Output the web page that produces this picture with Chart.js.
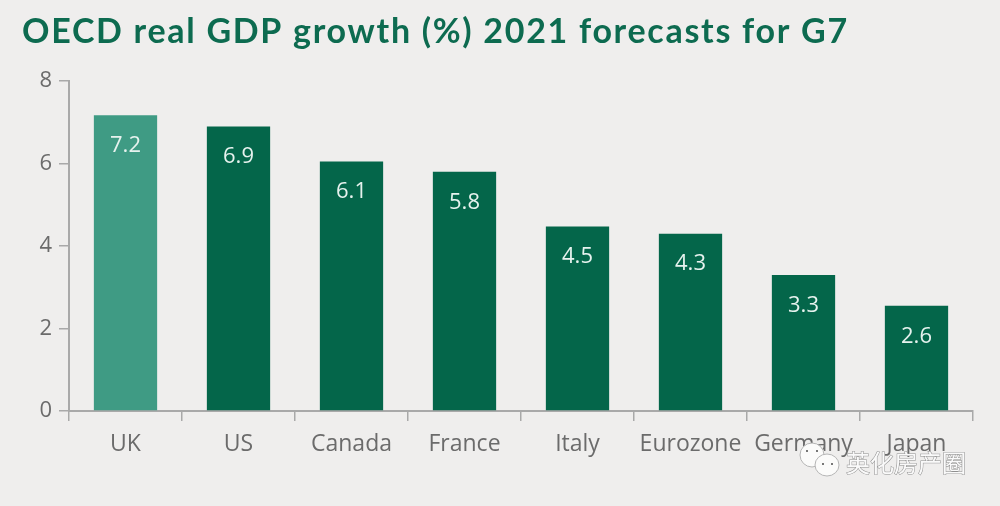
<!DOCTYPE html>
<html>
<head>
<meta charset="utf-8">
<script src="https://cdn.jsdelivr.net/npm/chart.js@4"></script>
<style>
html, body { margin: 0; padding: 0; background: #efeeed; }
#wrap { width: 1000px; height: 506px; }
</style>
</head>
<body>
<div id="wrap"><canvas id="chart"></canvas></div>
<script>
const titulo = 'OECD real GDP growth (%) 2021 forecasts for G7';
const categorias = ['UK', 'US', 'Canada', 'France', 'Italy', 'Eurozone', 'Germany', 'Japan'];
const valores = [7.17, 6.9, 6.05, 5.8, 4.47, 4.3, 3.3, 2.55];
const rotulos = ['7.2', '6.9', '6.1', '5.8', '4.5', '4.3', '3.3', '2.6'];
const cores = ['#3f9b84', '#04664a', '#04664a', '#04664a', '#04664a', '#04664a', '#04664a', '#04664a'];
const marca = '英化房产圈';

// title by hand because the title plugin has no letter spacing
const tituloPlugin = {
    id: 'tituloManual',
    afterDraw(chart) {
        const ctx = chart.ctx;
        ctx.save();
        ctx.fillStyle = '#0d6b50';
        ctx.font = 'bold 34px Lato';
        ctx.letterSpacing = '1.7px';
        ctx.textAlign = 'left';
        ctx.textBaseline = 'middle';
        ctx.fillText(titulo, 22, 32);
        ctx.restore();
    }
};

// white value labels inside the bars
const rotulosPlugin = {
    id: 'rotulos',
    afterDatasetsDraw(chart) {
        const ctx = chart.ctx;
        const barras = chart.getDatasetMeta(0).data;
        ctx.save();
        ctx.fillStyle = '#e6f2ee';
        ctx.font = '22px "Open Sans"';
        ctx.textAlign = 'center';
        ctx.textBaseline = 'middle';
        barras.forEach((b, i) => ctx.fillText(rotulos[i], b.x, b.y + 30.5));
        ctx.restore();
    }
};

// wechat style watermark over the bottom right corner
const marcaPlugin = {
    id: 'marca',
    afterDraw(chart) {
        const ctx = chart.ctx;
        ctx.save();
        ctx.fillStyle = '#fbfbfa';
        ctx.strokeStyle = '#b5b5b5';
        ctx.lineWidth = 1;
        ctx.beginPath();
        ctx.ellipse(812, 455, 12, 12, 0, 0, Math.PI * 2);
        ctx.fill();
        ctx.stroke();
        ctx.beginPath();
        ctx.ellipse(827, 465, 12, 11, 0, 0, Math.PI * 2);
        ctx.fill();
        ctx.stroke();
        ctx.fillStyle = '#777777';
        ctx.fillRect(806, 450, 2, 2);
        ctx.fillRect(816, 450, 2, 2);
        ctx.fillRect(822, 463, 2, 2);
        ctx.fillRect(831, 463, 2, 2);
        ctx.font = '24px "Noto Sans CJK SC"';
        ctx.fillStyle = '#fafafa';
        ctx.textAlign = 'left';
        ctx.textBaseline = 'middle';
        ctx.strokeStyle = '#8f8f8f';
        ctx.lineWidth = 1;
        ctx.strokeText(marca, 846, 463);
        ctx.fillText(marca, 846, 463);
        ctx.restore();
    }
};

new Chart(document.getElementById('chart'), {
    type: 'bar',
    data: {
        labels: categorias,
        datasets: [{
            data: valores,
            backgroundColor: cores,
            barPercentage: 0.56,
            categoryPercentage: 1
        }]
    },
    options: {
        responsive: true,
        maintainAspectRatio: false,
        animation: false,
        layout: { padding: { top: 81, right: 27, bottom: 0, left: 0 } },
        plugins: {
            legend: { display: false },
            tooltip: { enabled: false }
        },
        scales: {
            x: {
                afterFit(scale) { scale.height = 95; },
                grid: { drawOnChartArea: false, color: '#a9a9a9', tickLength: 10, lineWidth: 1.5 },
                border: { color: '#a9a9a9', width: 2 },
                ticks: {
                    color: '#6b6b6b',
                    font: { family: 'Open Sans', size: 23 },
                    padding: 10,
                    maxRotation: 0,
                    autoSkip: false
                }
            },
            y: {
                min: 0,
                max: 8,
                afterFit(scale) { scale.width = 69; },
                grid: { drawOnChartArea: false, color: '#a9a9a9', tickLength: 10, lineWidth: 1.5 },
                border: { color: '#a9a9a9', width: 2 },
                ticks: {
                    stepSize: 2,
                    color: '#6b6b6b',
                    font: { family: 'Open Sans', size: 22 },
                    padding: 7
                }
            }
        }
    },
    plugins: [tituloPlugin, rotulosPlugin, marcaPlugin]
});
</script>
</body>
</html>
